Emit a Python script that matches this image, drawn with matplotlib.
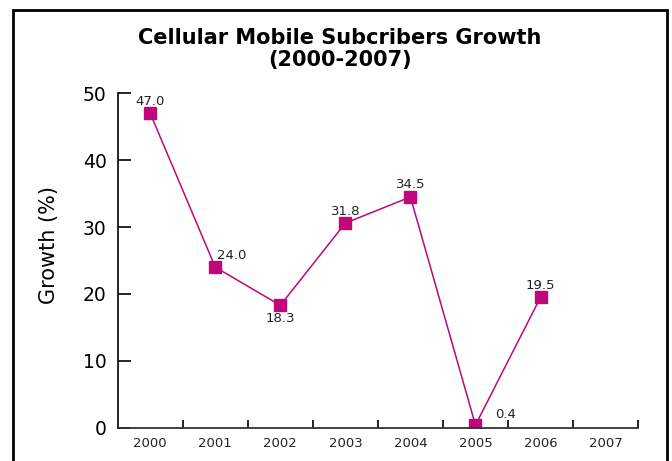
import matplotlib.pyplot as plt
from matplotlib.patches import Rectangle

years = ["2000", "2001", "2002", "2003", "2004", "2005", "2006", "2007"]
growth = [47.0, 24.0, 18.3, 30.6, 34.5, 0.4, 19.5]
value_labels = ["47.0", "24.0", "18.3", "31.8", "34.5", "0.4", "19.5"]
yticks = [0, 10, 20, 30, 40, 50]

COLOR = "#C0077A"
# label offsets in points (dx, dy)
offsets = [(0, 4), (12, 4), (0, -5), (0, 4), (0, 4), (22, 3), (0, 4)]

fig = plt.figure(figsize=(6.72, 4.61), dpi=100)
ax = fig.add_axes([0.1752, 0.0722, 0.7743, 0.7254])

xs = range(len(growth))
ax.plot(xs, growth, color=COLOR, lw=1.1, marker="s", ms=8.5,
        markerfacecolor=COLOR, markeredgecolor=COLOR)
for x, y, lab, (dx, dy) in zip(xs, growth, value_labels, offsets):
    ax.annotate(lab, (x, y), xytext=(dx, dy), textcoords="offset points",
                ha="center", va="bottom" if dy > 0 else "top", fontsize=9.5,
                color="#222222")

ax.set_xlim(-0.5, len(years) - 0.5)
ax.set_ylim(0, 50)
ax.set_yticks(yticks)
ax.set_yticklabels([str(t) for t in yticks], fontsize=13.5)
ax.tick_params(axis="y", direction="in", length=9, width=1.2, pad=8)

ax.set_xticks([i + 0.5 for i in range(len(years))])
ax.set_xticklabels([])
ax.tick_params(axis="x", direction="in", length=6, width=1.2)
for i, yr in enumerate(years):
    ax.text(i, -1.4, yr, ha="center", va="top", fontsize=9.5, color="#222222")

for side in ("top", "right"):
    ax.spines[side].set_visible(False)
ax.spines["left"].set_linewidth(1.2)
ax.spines["bottom"].set_linewidth(1.3)
ax.spines["bottom"].set_color("#333333")

fig.text(0.073, 0.468, "Growth (%)", rotation=90, ha="center", va="center",
         fontsize=15)
fig.text(0.506, 0.894, "Cellular Mobile Subcribers Growth\n(2000-2007)",
         ha="center", va="center", fontsize=15, fontweight="bold",
         linespacing=1.1)

# outer frame
fig.patches.append(Rectangle((0.0195, -0.1), 0.973, 1.078, transform=fig.transFigure,
                             fill=False, lw=2, ec="black"))

fig.savefig("out.png", dpi=100)
